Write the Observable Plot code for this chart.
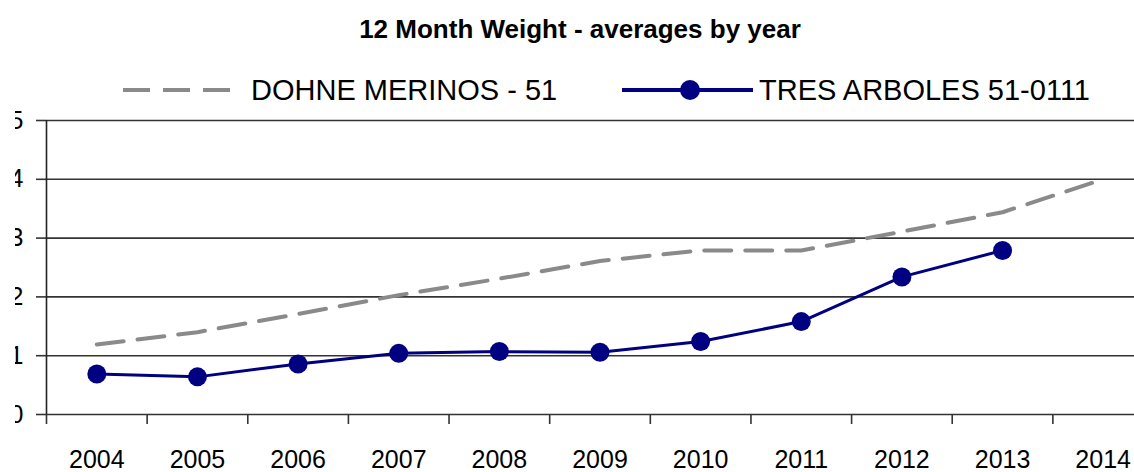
<!DOCTYPE html>
<html>
<head>
<meta charset="utf-8">
<script src="https://cdn.jsdelivr.net/npm/d3@7"></script>
<script src="https://cdn.jsdelivr.net/npm/@observablehq/plot@0.6"></script>
<style>
  html, body { margin: 0; padding: 0; background: #fff; }
  body { width: 1134px; height: 472px; position: relative; overflow: hidden;
         font-family: "Liberation Sans", Arial, sans-serif; color: #000; }
  #title { position: absolute; left: 0; width: 1160px; top: 14px; text-align: center;
           font-weight: bold; font-size: 26px; line-height: 30px; }
  .leg { position: absolute; top: 70px; height: 40px; display: flex; align-items: center; }
  .leg span { font-size: 29px; line-height: 36px; white-space: nowrap; }
  #chart { position: absolute; left: 15px; top: 105px; }
</style>
</head>
<body>
<div id="title"></div>
<div class="leg" id="leg1" style="left:122px"></div>
<div class="leg" id="leg2" style="left:621px"></div>
<div id="chart"></div>
<script>
const title = "12 Month Weight - averages by year";
const seriesNames = ["DOHNE MERINOS - 51", "TRES ARBOLES 51-0111"];
const years = [2004, 2005, 2006, 2007, 2008, 2009, 2010, 2011, 2012, 2013, 2014];
const dohne = [1.19, 1.40, 1.71, 2.03, 2.31, 2.61, 2.79, 2.79, 3.11, 3.44, 4.0];
const tres  = [0.69, 0.64, 0.86, 1.04, 1.07, 1.06, 1.24, 1.58, 2.34, 2.79];
const yTicks = [0, 1, 2, 3, 4, 5];

const grey = "#8a8a8a";
const navy = "#000080";

document.getElementById("title").textContent = title;
document.getElementById("leg1").innerHTML =
  `<svg width="112" height="10"><line x1="1" x2="112" y1="5" y2="5" stroke="${grey}" stroke-width="4" stroke-dasharray="27,13"/></svg><span style="margin-left:17px">${seriesNames[0]}</span>`;
document.getElementById("leg2").innerHTML =
  `<svg width="132" height="22"><line x1="1" x2="132" y1="11" y2="11" stroke="${navy}" stroke-width="4"/><circle cx="69" cy="11" r="10" fill="${navy}"/></svg><span style="margin-left:6px">${seriesNames[1]}</span>`;

const dData = years.map((y, i) => ({year: y, v: dohne[i]}));
const tData = tres.map((v, i) => ({year: years[i], v}));
const bounds = [years[0] - 0.5, ...years.map(y => y + 0.5)];

const plot = Plot.plot({
  width: 1119,
  height: 367,
  marginLeft: 31,
  marginRight: 0,
  marginTop: 15,
  marginBottom: 58,
  style: {fontSize: "25px", fontFamily: "'Liberation Sans', Arial, sans-serif", color: "#000", background: "#fff"},
  x: {domain: [years[0] - 0.5, years[years.length - 1] + 0.5], range: [31, 1138]},
  y: {domain: [0, 5]},
  marks: [
    Plot.gridY(yTicks, {stroke: "#333", strokeOpacity: 1, strokeWidth: 1.6}),
    Plot.axisY({ticks: yTicks, tickSize: 10, tickPadding: 13, tickFormat: d => String(d), stroke: "#333", strokeWidth: 1.6, label: null}),
    Plot.ruleX([years[0] - 0.5], {stroke: "#222", strokeWidth: 1.6}),
    Plot.axisX({ticks: bounds, tickSize: 10, tickFormat: () => "", stroke: "#333", strokeWidth: 1.6, label: null}),
    Plot.axisX({ticks: years, tickSize: 0, tickPadding: 36, tickFormat: d => String(d), label: null}),
    Plot.line(dData, {x: "year", y: "v", stroke: grey, strokeWidth: 4, strokeDasharray: "27,14"}),
    Plot.line(tData, {x: "year", y: "v", stroke: navy, strokeWidth: 3}),
    Plot.dot(tData, {x: "year", y: "v", r: 9.5, fill: navy, stroke: "none"})
  ]
});
document.getElementById("chart").appendChild(plot);
</script>
</body>
</html>
